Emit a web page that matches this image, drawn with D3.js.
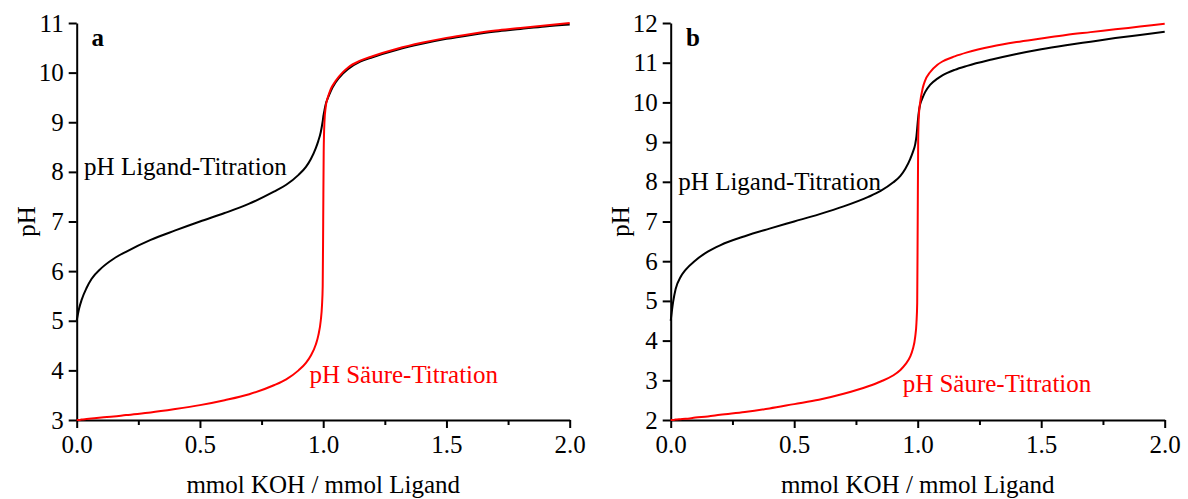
<!DOCTYPE html>
<html lang="en">
<head>
    <meta charset="utf-8">
    <style>
        body { margin: 0; background: #fff; }
        svg { display: block; }
        text { font-family: "Liberation Serif", "Times New Roman", serif; }
    </style>
</head>
<body>
    <svg width="1188" height="499"></svg>
    <script src="https://cdn.jsdelivr.net/npm/d3@7"></script>
    <script>
        /************************************************************************************
        * Data
        ************************************************************************************/
        // mmol KOH / mmol Ligand
        const kohRatio = [0, 0.01, 0.02, 0.04, 0.06, 0.1, 0.15, 0.2, 0.3, 0.4, 0.5, 0.6, 0.7, 0.8, 0.85,
            0.9, 0.93, 0.95, 0.97, 0.98, 0.99, 0.995, 0.998, 1.0, 1.002, 1.005, 1.01, 1.02, 1.03, 1.05,
            1.08, 1.1, 1.15, 1.2, 1.3, 1.4, 1.5, 1.6, 1.7, 1.8, 1.9, 2.0];

        // Panel a
        const ligandA = [5.0, 5.25, 5.42, 5.66, 5.84, 6.06, 6.25, 6.39, 6.63, 6.82, 7.0, 7.17, 7.36, 7.6, 7.74,
            7.94, 8.1, 8.26, 8.48, 8.62, 8.8, 8.93, 9.02, 9.1, 9.16, 9.24, 9.36, 9.5, 9.62, 9.8,
            9.98, 10.07, 10.22, 10.31, 10.46, 10.58, 10.68, 10.76, 10.83, 10.88, 10.93, 10.97];
        const acidA = [3.0, 3.0, 3.01, 3.02, 3.03, 3.05, 3.07, 3.1, 3.15, 3.22, 3.3, 3.4, 3.52, 3.7, 3.82,
            4.0, 4.15, 4.3, 4.52, 4.7, 5.0, 5.3, 5.7, 7.0, 8.4, 9.0, 9.3, 9.52, 9.66, 9.83,
            10.01, 10.1, 10.24, 10.33, 10.48, 10.6, 10.7, 10.78, 10.85, 10.9, 10.95, 11.0];

        // Panel b
        const ligandB = [4.5, 4.98, 5.3, 5.6, 5.78, 6.02, 6.24, 6.4, 6.63, 6.82, 7.0, 7.18, 7.38, 7.62, 7.77,
            7.98, 8.15, 8.33, 8.58, 8.74, 8.95, 9.15, 9.35, 9.5, 9.62, 9.78, 9.95, 10.12, 10.26, 10.44,
            10.6, 10.68, 10.82, 10.92, 11.08, 11.22, 11.34, 11.44, 11.53, 11.62, 11.7, 11.78];
        const acidB = [2.0, 2.0, 2.01, 2.02, 2.03, 2.06, 2.09, 2.13, 2.2, 2.29, 2.4, 2.51, 2.66, 2.85, 2.97,
            3.12, 3.26, 3.4, 3.6, 3.78, 4.1, 4.45, 4.95, 7.0, 9.1, 9.7, 10.0, 10.35, 10.55, 10.76,
            10.95, 11.03, 11.16, 11.26, 11.41, 11.52, 11.61, 11.7, 11.77, 11.84, 11.91, 11.98];

        const xMajorTicks = [0, 0.5, 1.0, 1.5, 2.0];
        const xMinorTicks = [0.25, 0.75, 1.25, 1.75];
        const yTicksA = [3, 4, 5, 6, 7, 8, 9, 10, 11];
        const yTicksB = [2, 3, 4, 5, 6, 7, 8, 9, 10, 11, 12];

        const xTitle = "mmol KOH / mmol Ligand";
        const yTitle = "pH";
        const ligandLabel = "pH Ligand-Titration";
        const acidLabel = "pH Säure-Titration";

        /************************************************************************************
        * Drawing
        ************************************************************************************/
        const svg = d3.select("svg");
        const fontSize = 25;
        const plotTop = 23, plotBottom = 420;

        const panels = [
            { letter: "a", left: 76.7, right: 569.7, yTicks: yTicksA, ligand: ligandA, acid: acidA,
              letterAt: [0.06, 10.54], ligandAt: [0.03, 7.94], acidAt: [0.944, 3.74] },
            { letter: "b", left: 670.7, right: 1164.7, yTicks: yTicksB, ligand: ligandB, acid: acidB,
              letterAt: [0.062, 11.42], ligandAt: [0.031, 7.79], acidAt: [0.939, 2.71] }
        ];

        panels.forEach(p => {
            const x = d3.scaleLinear().domain([0, 2]).range([p.left, p.right]);
            const y = d3.scaleLinear().domain(d3.extent(p.yTicks)).range([plotBottom, plotTop]);
            const g = svg.append("g");

            // Axes
            g.append("g").attr("transform", `translate(${p.left},0)`)
                .call(d3.axisLeft(y).tickValues(p.yTicks).tickSize(8).tickSizeOuter(0).tickPadding(5));
            const xMinor = g.append("g").attr("transform", `translate(0,${plotBottom})`)
                .call(d3.axisBottom(x).tickValues(xMinorTicks).tickSize(5).tickSizeOuter(0).tickFormat(""));
            xMinor.select(".domain").remove();
            g.append("g").attr("transform", `translate(0,${plotBottom})`)
                .call(d3.axisBottom(x).tickValues(xMajorTicks).tickSize(8).tickSizeOuter(0)
                    .tickPadding(7).tickFormat(d3.format(".1f")));

            g.selectAll(".domain, .tick line").attr("stroke", "#000").attr("stroke-width", 2);
            g.selectAll(".tick text").attr("font-size", fontSize)
                .attr("font-family", "Liberation Serif").attr("fill", "#000");

            // Curves
            const line = d3.line()
                .x((d, i) => x(kohRatio[i]))
                .y(d => y(d))
                .curve(d3.curveMonotoneX);

            g.append("path").datum(p.ligand)
                .attr("d", line).attr("fill", "none")
                .attr("stroke", "#000").attr("stroke-width", 2);
            g.append("path").datum(p.acid)
                .attr("d", line).attr("fill", "none")
                .attr("stroke", "#ff0000").attr("stroke-width", 2);

            // Labels
            g.append("text").attr("x", x(p.letterAt[0])).attr("y", y(p.letterAt[1]))
                .attr("font-size", fontSize).attr("font-weight", "bold").text(p.letter);
            g.append("text").attr("x", x(p.ligandAt[0])).attr("y", y(p.ligandAt[1]))
                .attr("font-size", fontSize).attr("fill", "#000").text(ligandLabel);
            g.append("text").attr("x", x(p.acidAt[0])).attr("y", y(p.acidAt[1]))
                .attr("font-size", fontSize).attr("fill", "#ff0000").text(acidLabel);

            // Axis titles
            g.append("text")
                .attr("x", (p.left + p.right) / 2).attr("y", 493)
                .attr("text-anchor", "middle").attr("font-size", fontSize).text(xTitle);
            g.append("text")
                .attr("transform", `translate(${p.left - 42},${(plotTop + plotBottom) / 2}) rotate(-90)`)
                .attr("text-anchor", "middle").attr("font-size", fontSize).text(yTitle);
        });
    </script>
</body>
</html>
